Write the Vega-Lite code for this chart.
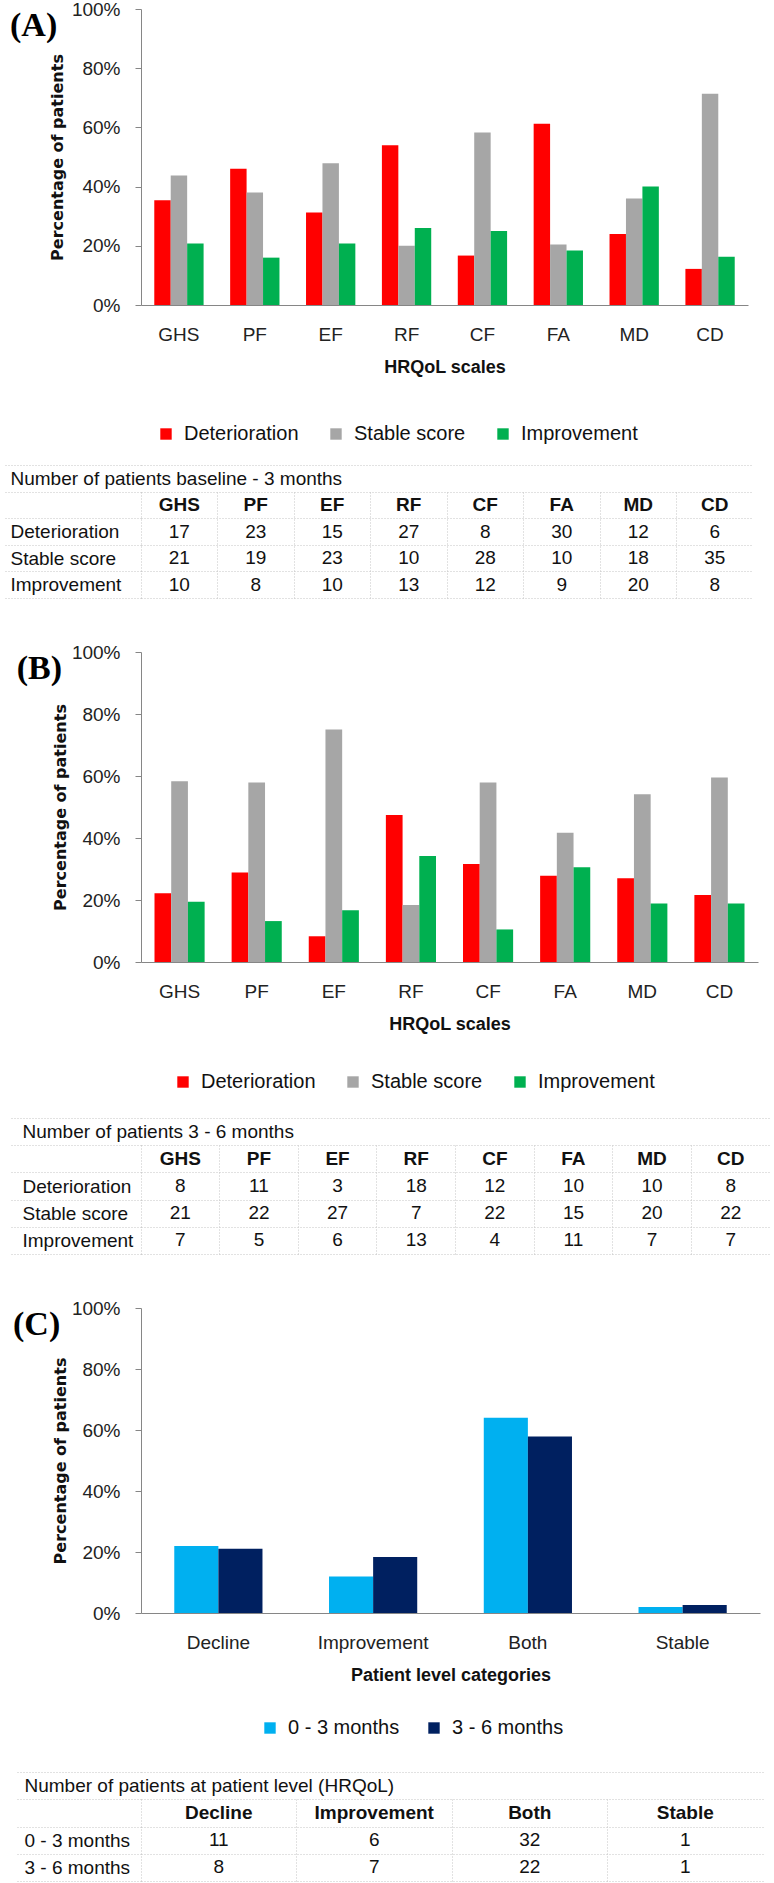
{
  "$schema": "https://vega.github.io/schema/vega-lite/v6.json",
  "padding": {"left": 2, "top": 0, "right": 0, "bottom": 0},
  "background": "white",
  "config": {
    "view": {"stroke": null},
    "font": "Liberation Sans",
    "text": {"font": "Liberation Sans", "fontSize": 19, "color": "#111"}
  },
  "datasets": {
    "a": [
      {"scale": "GHS", "status": "Deterioration", "n": 17, "pct": 0.354},
      {"scale": "GHS", "status": "Stable score", "n": 21, "pct": 0.4375},
      {"scale": "GHS", "status": "Improvement", "n": 10, "pct": 0.208},
      {"scale": "PF", "status": "Deterioration", "n": 23, "pct": 0.46},
      {"scale": "PF", "status": "Stable score", "n": 19, "pct": 0.38},
      {"scale": "PF", "status": "Improvement", "n": 8, "pct": 0.16},
      {"scale": "EF", "status": "Deterioration", "n": 15, "pct": 0.3125},
      {"scale": "EF", "status": "Stable score", "n": 23, "pct": 0.479},
      {"scale": "EF", "status": "Improvement", "n": 10, "pct": 0.208},
      {"scale": "RF", "status": "Deterioration", "n": 27, "pct": 0.54},
      {"scale": "RF", "status": "Stable score", "n": 10, "pct": 0.2},
      {"scale": "RF", "status": "Improvement", "n": 13, "pct": 0.26},
      {"scale": "CF", "status": "Deterioration", "n": 8, "pct": 0.167},
      {"scale": "CF", "status": "Stable score", "n": 28, "pct": 0.583},
      {"scale": "CF", "status": "Improvement", "n": 12, "pct": 0.25},
      {"scale": "FA", "status": "Deterioration", "n": 30, "pct": 0.612},
      {"scale": "FA", "status": "Stable score", "n": 10, "pct": 0.204},
      {"scale": "FA", "status": "Improvement", "n": 9, "pct": 0.184},
      {"scale": "MD", "status": "Deterioration", "n": 12, "pct": 0.24},
      {"scale": "MD", "status": "Stable score", "n": 18, "pct": 0.36},
      {"scale": "MD", "status": "Improvement", "n": 20, "pct": 0.4},
      {"scale": "CD", "status": "Deterioration", "n": 6, "pct": 0.122},
      {"scale": "CD", "status": "Stable score", "n": 35, "pct": 0.714},
      {"scale": "CD", "status": "Improvement", "n": 8, "pct": 0.163}
    ],
    "b": [
      {"scale": "GHS", "status": "Deterioration", "n": 8, "pct": 0.222},
      {"scale": "GHS", "status": "Stable score", "n": 21, "pct": 0.583},
      {"scale": "GHS", "status": "Improvement", "n": 7, "pct": 0.194},
      {"scale": "PF", "status": "Deterioration", "n": 11, "pct": 0.289},
      {"scale": "PF", "status": "Stable score", "n": 22, "pct": 0.579},
      {"scale": "PF", "status": "Improvement", "n": 5, "pct": 0.132},
      {"scale": "EF", "status": "Deterioration", "n": 3, "pct": 0.083},
      {"scale": "EF", "status": "Stable score", "n": 27, "pct": 0.75},
      {"scale": "EF", "status": "Improvement", "n": 6, "pct": 0.167},
      {"scale": "RF", "status": "Deterioration", "n": 18, "pct": 0.474},
      {"scale": "RF", "status": "Stable score", "n": 7, "pct": 0.184},
      {"scale": "RF", "status": "Improvement", "n": 13, "pct": 0.342},
      {"scale": "CF", "status": "Deterioration", "n": 12, "pct": 0.316},
      {"scale": "CF", "status": "Stable score", "n": 22, "pct": 0.579},
      {"scale": "CF", "status": "Improvement", "n": 4, "pct": 0.105},
      {"scale": "FA", "status": "Deterioration", "n": 10, "pct": 0.278},
      {"scale": "FA", "status": "Stable score", "n": 15, "pct": 0.417},
      {"scale": "FA", "status": "Improvement", "n": 11, "pct": 0.306},
      {"scale": "MD", "status": "Deterioration", "n": 10, "pct": 0.27},
      {"scale": "MD", "status": "Stable score", "n": 20, "pct": 0.541},
      {"scale": "MD", "status": "Improvement", "n": 7, "pct": 0.189},
      {"scale": "CD", "status": "Deterioration", "n": 8, "pct": 0.216},
      {"scale": "CD", "status": "Stable score", "n": 22, "pct": 0.595},
      {"scale": "CD", "status": "Improvement", "n": 7, "pct": 0.189}
    ],
    "c": [
      {"cat": "Decline", "period": "0 - 3 months", "n": 11, "pct": 0.22},
      {"cat": "Decline", "period": "3 - 6 months", "n": 8, "pct": 0.211},
      {"cat": "Improvement", "period": "0 - 3 months", "n": 6, "pct": 0.12},
      {"cat": "Improvement", "period": "3 - 6 months", "n": 7, "pct": 0.184},
      {"cat": "Both", "period": "0 - 3 months", "n": 32, "pct": 0.64},
      {"cat": "Both", "period": "3 - 6 months", "n": 22, "pct": 0.579},
      {"cat": "Stable", "period": "0 - 3 months", "n": 1, "pct": 0.02},
      {"cat": "Stable", "period": "3 - 6 months", "n": 1, "pct": 0.026}
    ],
    "hdr8": [
      {"scale": "GHS", "status": " "}, {"scale": "PF", "status": " "}, {"scale": "EF", "status": " "}, {"scale": "RF", "status": " "},
      {"scale": "CF", "status": " "}, {"scale": "FA", "status": " "}, {"scale": "MD", "status": " "}, {"scale": "CD", "status": " "}
    ],
    "hdr4": [
      {"cat": "Decline", "period": " "}, {"cat": "Improvement", "period": " "}, {"cat": "Both", "period": " "}, {"cat": "Stable", "period": " "}
    ]
  },
  "spacing": 44,
  "resolve": {"scale": {"color": "independent", "xOffset": "independent", "x": "independent", "y": "independent"}, "legend": {"color": "independent"}},
  "vconcat": [
    {
      "spacing": 12,
      "resolve": {"scale": {"color": "independent", "xOffset": "independent", "x": "independent", "y": "independent"}, "legend": {"color": "independent"}},
      "vconcat": [
        {
          "width": 607, "height": 296,
          "title": {"text": "(A)", "orient": "left", "anchor": "end", "angle": 0, "baseline": "top", "align": "right", "offset": 0, "dx": 55, "font": "Liberation Serif", "fontSize": 34, "fontWeight": "bold", "frame": "group", "color": "#000"},
          "data": {"name": "a"},
          "mark": {"type": "bar"},
          "encoding": {
            "x": {"field": "scale", "type": "nominal", "sort": ["GHS", "PF", "EF", "RF", "CF", "FA", "MD", "CD"],
                  "scale": {"paddingInner": 0.35, "paddingOuter": 0.175},
                  "axis": {"title": "HRQoL scales", "labelAngle": 0, "ticks": false, "domainColor": "#868686", "labelFontSize": 19, "labelColor": "#222", "labelPadding": 20, "titleFontSize": 18, "titleFontWeight": "bold", "titleColor": "#111", "titlePadding": 14, "grid": false}},
            "xOffset": {"field": "status", "type": "nominal", "sort": ["Deterioration", "Stable score", "Improvement"]},
            "y": {"field": "pct", "type": "quantitative", "scale": {"domain": [0, 1]},
                  "axis": {"title": "Percentage of patients", "values": [0, 0.2, 0.4, 0.6, 0.8, 1], "format": ".0%", "domainColor": "#868686", "tickColor": "#868686", "tickSize": 6, "labelFontSize": 19, "labelColor": "#222", "labelPadding": 15, "labelFlush": false, "labelOverlap": false, "titleFont": "DejaVu Sans", "titleFontSize": 16, "titleFontWeight": "bold", "titleColor": "#111", "titlePadding": 6, "grid": false}},
            "color": {"field": "status", "type": "nominal", "sort": ["Deterioration", "Stable score", "Improvement"],
                      "scale": {"domain": ["Deterioration", "Stable score", "Improvement"], "range": ["#FF0000", "#A6A6A6", "#00B050"]},
                      "legend": {"orient": "none", "legendX": 15, "legendY": 415, "direction": "horizontal", "title": null, "symbolType": "square", "symbolSize": 130, "symbolStrokeWidth": 0, "labelFontSize": 20, "labelColor": "#111", "columnPadding": 27, "labelOffset": 8}}
          }
        },
        {
          "width": 612, "height": 133,
          "encoding": {
            "y": {"field": "status", "type": "nominal",
                  "scale": {"type": "band", "domain": ["Number of patients baseline - 3 months", " ", "Deterioration", "Stable score", "Improvement"], "paddingInner": 0, "paddingOuter": 0},
                  "axis": {"title": null, "domain": false, "ticks": true, "tickBand": "extent", "tickSize": 138, "tickColor": "#c4c4c4", "tickDash": [1, 2], "grid": true, "gridColor": "#c4c4c4", "gridDash": [1, 2], "labelAlign": "left", "labelPadding": -7, "labelLimit": 0, "labelFontSize": 19, "labelColor": "#111", "labelOverlap": false, "zindex": 1}}
          },
          "layer": [
            {"data": {"values": [{"status": "Number of patients baseline - 3 months"}]}, "mark": {"type": "rect", "color": "white"}},
            {"data": {"name": "hdr8"}, "mark": {"type": "text", "fontWeight": "bold"},
             "encoding": {"x": {"field": "scale", "type": "nominal", "scale": {"type": "band", "domain": ["GHS", "PF", "EF", "RF", "CF", "FA", "MD", "CD"], "paddingInner": 0, "paddingOuter": 0},
                                "axis": {"title": null, "orient": "top", "domain": false, "ticks": false, "labels": false, "grid": true, "bandPosition": 0, "gridColor": "#c4c4c4", "gridDash": [1, 2], "zindex": 0}},
                          "text": {"field": "scale"}}},
            {"data": {"name": "a"}, "mark": {"type": "text"},
             "encoding": {"x": {"field": "scale", "type": "nominal", "scale": {"type": "band", "domain": ["GHS", "PF", "EF", "RF", "CF", "FA", "MD", "CD"], "paddingInner": 0, "paddingOuter": 0},
                                "axis": {"title": null, "orient": "top", "domain": false, "ticks": false, "labels": false, "grid": true, "bandPosition": 0, "gridColor": "#c4c4c4", "gridDash": [1, 2], "zindex": 0}},
                          "text": {"field": "n"}}}
          ]
        }
      ]
    },
    {
      "spacing": 17,
      "resolve": {"scale": {"color": "independent", "xOffset": "independent", "x": "independent", "y": "independent"}, "legend": {"color": "independent"}},
      "vconcat": [
        {
          "width": 617, "height": 310,
          "title": {"text": "(B)", "orient": "left", "anchor": "end", "angle": 0, "baseline": "top", "align": "right", "offset": 0, "dx": 55, "font": "Liberation Serif", "fontSize": 34, "fontWeight": "bold", "frame": "group", "color": "#000"},
          "data": {"name": "b"},
          "mark": {"type": "bar"},
          "encoding": {
            "x": {"field": "scale", "type": "nominal", "sort": ["GHS", "PF", "EF", "RF", "CF", "FA", "MD", "CD"],
                  "scale": {"paddingInner": 0.35, "paddingOuter": 0.175},
                  "axis": {"title": "HRQoL scales", "labelAngle": 0, "ticks": false, "domainColor": "#868686", "labelFontSize": 19, "labelColor": "#222", "labelPadding": 20, "titleFontSize": 18, "titleFontWeight": "bold", "titleColor": "#111", "titlePadding": 14, "grid": false}},
            "xOffset": {"field": "status", "type": "nominal", "sort": ["Deterioration", "Stable score", "Improvement"]},
            "y": {"field": "pct", "type": "quantitative", "scale": {"domain": [0, 1]},
                  "axis": {"title": "Percentage of patients", "values": [0, 0.2, 0.4, 0.6, 0.8, 1], "format": ".0%", "domainColor": "#868686", "tickColor": "#868686", "tickSize": 6, "labelFontSize": 19, "labelColor": "#222", "labelPadding": 15, "labelFlush": false, "labelOverlap": false, "titleFont": "DejaVu Sans", "titleFontSize": 16, "titleFontWeight": "bold", "titleColor": "#111", "titlePadding": 3, "grid": false}},
            "color": {"field": "status", "type": "nominal", "sort": ["Deterioration", "Stable score", "Improvement"],
                      "scale": {"domain": ["Deterioration", "Stable score", "Improvement"], "range": ["#FF0000", "#A6A6A6", "#00B050"]},
                      "legend": {"orient": "none", "legendX": 32, "legendY": 420, "direction": "horizontal", "title": null, "symbolType": "square", "symbolSize": 130, "symbolStrokeWidth": 0, "labelFontSize": 20, "labelColor": "#111", "columnPadding": 27, "labelOffset": 8}}
          }
        },
        {
          "width": 629, "height": 136,
          "encoding": {
            "y": {"field": "status", "type": "nominal",
                  "scale": {"type": "band", "domain": ["Number of patients 3 - 6 months", " ", "Deterioration", "Stable score", "Improvement"], "paddingInner": 0, "paddingOuter": 0},
                  "axis": {"title": null, "domain": false, "ticks": true, "tickBand": "extent", "tickSize": 131, "tickColor": "#c4c4c4", "tickDash": [1, 2], "grid": true, "gridColor": "#c4c4c4", "gridDash": [1, 2], "labelAlign": "left", "labelPadding": -12, "labelLimit": 0, "labelFontSize": 19, "labelColor": "#111", "labelOverlap": false, "zindex": 1}}
          },
          "layer": [
            {"data": {"values": [{"status": "Number of patients 3 - 6 months"}]}, "mark": {"type": "rect", "color": "white"}},
            {"data": {"name": "hdr8"}, "mark": {"type": "text", "fontWeight": "bold"},
             "encoding": {"x": {"field": "scale", "type": "nominal", "scale": {"type": "band", "domain": ["GHS", "PF", "EF", "RF", "CF", "FA", "MD", "CD"], "paddingInner": 0, "paddingOuter": 0},
                                "axis": {"title": null, "orient": "top", "domain": false, "ticks": false, "labels": false, "grid": true, "bandPosition": 0, "gridColor": "#c4c4c4", "gridDash": [1, 2], "zindex": 0}},
                          "text": {"field": "scale"}}},
            {"data": {"name": "b"}, "mark": {"type": "text"},
             "encoding": {"x": {"field": "scale", "type": "nominal", "scale": {"type": "band", "domain": ["GHS", "PF", "EF", "RF", "CF", "FA", "MD", "CD"], "paddingInner": 0, "paddingOuter": 0},
                                "axis": {"title": null, "orient": "top", "domain": false, "ticks": false, "labels": false, "grid": true, "bandPosition": 0, "gridColor": "#c4c4c4", "gridDash": [1, 2], "zindex": 0}},
                          "text": {"field": "n"}}}
          ]
        }
      ]
    },
    {
      "spacing": 25,
      "resolve": {"scale": {"color": "independent", "xOffset": "independent", "x": "independent", "y": "independent"}, "legend": {"color": "independent"}},
      "vconcat": [
        {
          "width": 619, "height": 305,
          "title": {"text": "(C)", "orient": "left", "anchor": "end", "angle": 0, "baseline": "top", "align": "right", "offset": 0, "dx": 55, "font": "Liberation Serif", "fontSize": 34, "fontWeight": "bold", "frame": "group", "color": "#000"},
          "data": {"name": "c"},
          "mark": {"type": "bar"},
          "encoding": {
            "x": {"field": "cat", "type": "nominal", "sort": ["Decline", "Improvement", "Both", "Stable"],
                  "scale": {"paddingInner": 0.43, "paddingOuter": 0.215},
                  "axis": {"title": "Patient level categories", "labelAngle": 0, "ticks": false, "domainColor": "#868686", "labelFontSize": 19, "labelColor": "#222", "labelPadding": 20, "titleFontSize": 18, "titleFontWeight": "bold", "titleColor": "#111", "titlePadding": 14, "grid": false}},
            "xOffset": {"field": "period", "type": "nominal", "sort": ["0 - 3 months", "3 - 6 months"]},
            "y": {"field": "pct", "type": "quantitative", "scale": {"domain": [0, 1]},
                  "axis": {"title": "Percentage of patients", "values": [0, 0.2, 0.4, 0.6, 0.8, 1], "format": ".0%", "domainColor": "#868686", "tickColor": "#868686", "tickSize": 6, "labelFontSize": 19, "labelColor": "#222", "labelPadding": 15, "labelFlush": false, "labelOverlap": false, "titleFont": "DejaVu Sans", "titleFontSize": 16, "titleFontWeight": "bold", "titleColor": "#111", "titlePadding": 3, "grid": false}},
            "color": {"field": "period", "type": "nominal", "sort": ["0 - 3 months", "3 - 6 months"],
                      "scale": {"domain": ["0 - 3 months", "3 - 6 months"], "range": ["#00B0F0", "#002060"]},
                      "legend": {"orient": "none", "legendX": 119, "legendY": 410, "direction": "horizontal", "title": null, "symbolType": "square", "symbolSize": 130, "symbolStrokeWidth": 0, "labelFontSize": 20, "labelColor": "#111", "columnPadding": 24, "labelOffset": 8}}
          }
        },
        {
          "width": 622, "height": 109,
          "encoding": {
            "y": {"field": "period", "type": "nominal",
                  "scale": {"type": "band", "domain": ["Number of patients at patient level (HRQoL)", " ", "0 - 3 months", "3 - 6 months"], "paddingInner": 0, "paddingOuter": 0},
                  "axis": {"title": null, "domain": false, "ticks": true, "tickBand": "extent", "tickSize": 126, "tickColor": "#c4c4c4", "tickDash": [1, 2], "grid": true, "gridColor": "#c4c4c4", "gridDash": [1, 2], "labelAlign": "left", "labelPadding": -9, "labelLimit": 0, "labelFontSize": 19, "labelColor": "#111", "labelOverlap": false, "zindex": 1}}
          },
          "layer": [
            {"data": {"values": [{"period": "Number of patients at patient level (HRQoL)"}]}, "mark": {"type": "rect", "color": "white"}},
            {"data": {"name": "hdr4"}, "mark": {"type": "text", "fontWeight": "bold"},
             "encoding": {"x": {"field": "cat", "type": "nominal", "scale": {"type": "band", "domain": ["Decline", "Improvement", "Both", "Stable"], "paddingInner": 0, "paddingOuter": 0},
                                "axis": {"title": null, "orient": "top", "domain": false, "ticks": false, "labels": false, "grid": true, "bandPosition": 0, "gridColor": "#c4c4c4", "gridDash": [1, 2], "zindex": 0}},
                          "text": {"field": "cat"}}},
            {"data": {"name": "c"}, "mark": {"type": "text"},
             "encoding": {"x": {"field": "cat", "type": "nominal", "scale": {"type": "band", "domain": ["Decline", "Improvement", "Both", "Stable"], "paddingInner": 0, "paddingOuter": 0},
                                "axis": {"title": null, "orient": "top", "domain": false, "ticks": false, "labels": false, "grid": true, "bandPosition": 0, "gridColor": "#c4c4c4", "gridDash": [1, 2], "zindex": 0}},
                          "text": {"field": "n"}}}
          ]
        }
      ]
    }
  ]
}
